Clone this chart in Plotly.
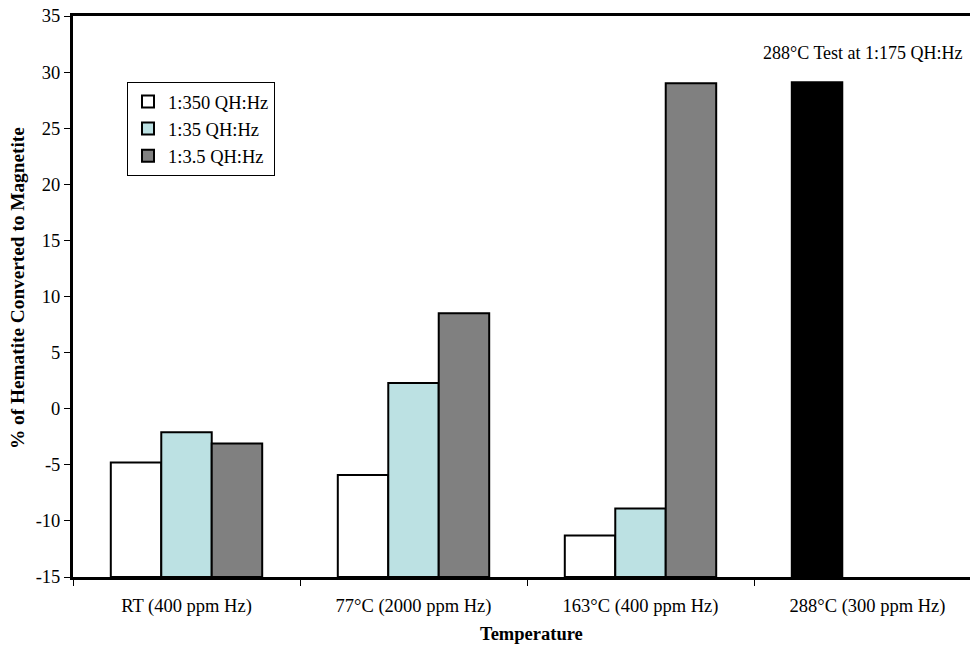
import plotly.graph_objects as go

# Test conditions (category axis)
categories = ["RT (400 ppm Hz)", "77°C (2000 ppm Hz)", "163°C (400 ppm Hz)", "288°C (300 ppm Hz)"]

# % of hematite converted to magnetite, per QH:Hz ratio
ratio_350 = [-4.8, -5.9, -11.3, 29.1]   # last point is the 1:175 test at 288°C
ratio_35 = [-2.1, 2.3, -8.9, None]
ratio_3_5 = [-3.1, 8.5, 29.0, None]

series_names = ["1:350 QH:Hz", "1:35 QH:Hz", "1:3.5 QH:Hz"]
y_ticks = [-15, -10, -5, 0, 5, 10, 15, 20, 25, 30, 35]
y_min, y_max = y_ticks[0], y_ticks[-1]

FONT = "Liberation Serif"
FS = 18.5

# plot area geometry (px)
W, H = 970, 645
L, T, B = 73, 16, 68
cat_px = 227.0
x_end = -0.5 + (W - L) / cat_px


def from_floor(vals):
    return [None if v is None else v - y_min for v in vals]


fig = go.Figure()
fig.add_trace(go.Bar(
    x=categories, y=from_floor(ratio_350), base=y_min, name=series_names[0],
    marker=dict(color=["white", "white", "white", "black"],
                line=dict(color="black", width=2)),
))
fig.add_trace(go.Bar(
    x=categories, y=from_floor(ratio_35), base=y_min, name=series_names[1],
    marker=dict(color="#bce1e3", line=dict(color="black", width=2)),
))
fig.add_trace(go.Bar(
    x=categories, y=from_floor(ratio_3_5), base=y_min, name=series_names[2],
    marker=dict(color="#808080", line=dict(color="black", width=2)),
))

plot_w = W - L
plot_h = H - T - B

fig.update_layout(
    width=W, height=H,
    margin=dict(l=L, r=0, t=T, b=B, pad=0),
    paper_bgcolor="white", plot_bgcolor="white",
    font=dict(family=FONT, size=FS, color="black"),
    barmode="group", bargap=0.333, bargroupgap=0,
    showlegend=True,
    legend=dict(
        x=(127 - L) / plot_w, y=(H - B - 82) / plot_h,
        xanchor="left", yanchor="top",
        bgcolor="white", bordercolor="black", borderwidth=1,
        font=dict(family=FONT, size=FS, color="black"),
        itemwidth=30, traceorder="normal",
    ),
    xaxis=dict(
        type="category", range=[-0.5, x_end],
        showline=True, linecolor="black", linewidth=3, mirror=True,
        ticks="outside", tickson="boundaries", ticklen=6, tickwidth=1, tickcolor="black",
        showgrid=False, zeroline=False,
        tickfont=dict(family=FONT, size=FS, color="black"),
        ticklabelstandoff=10,
    ),
    yaxis=dict(
        range=[y_min, y_max],
        tickmode="array", tickvals=y_ticks, ticktext=[str(v) for v in y_ticks],
        showline=True, linecolor="black", linewidth=3, mirror=False,
        ticks="outside", ticklen=6, tickwidth=1, tickcolor="black",
        showgrid=False, zeroline=False,
        tickfont=dict(family=FONT, size=FS, color="black"),
    ),
    annotations=[
        dict(text="288°C Test at 1:175 QH:Hz", xref="paper", yref="paper",
             x=(761 - L) / plot_w, y=(H - B - 53) / plot_h,
             xanchor="left", yanchor="middle", showarrow=False,
             font=dict(family=FONT, size=18, color="black")),
        dict(text="<b>Temperature</b>", xref="paper", yref="paper",
             x=(531 - L) / plot_w, y=-(634 - (H - B)) / plot_h,
             xanchor="center", yanchor="middle", showarrow=False,
             font=dict(family=FONT, size=18.5, color="black")),
        dict(text="<b>% of Hematite Converted to Magnetite</b>", xref="paper", yref="paper",
             x=-(L - 17) / plot_w, y=(H - B - 288) / plot_h, textangle=-90,
             xanchor="center", yanchor="middle", showarrow=False,
             font=dict(family=FONT, size=19.3, color="black")),
    ],
)

fig.write_html("out.html")
